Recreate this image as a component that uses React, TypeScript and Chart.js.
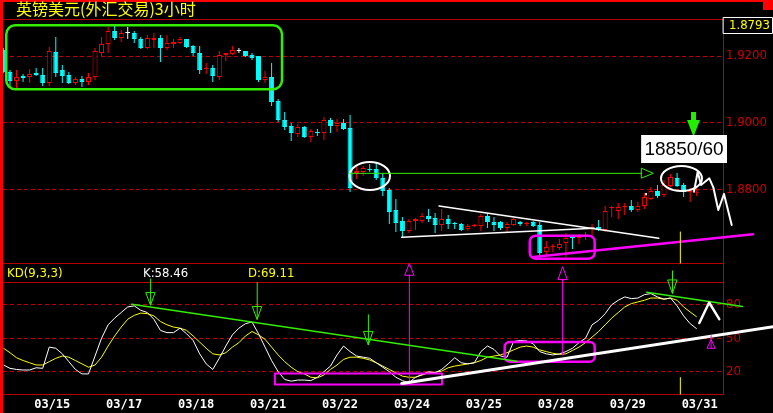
import React, { useEffect, useRef } from 'react';
import { Chart, registerables } from 'chart.js';

Chart.register(...registerables);

// ---------- data (3-hour bars, bar index -1 .. 105) ----------
const TITLE = '英镑美元(外汇交易)3小时';
const KD_NAME = 'KD(9,3,3)';
const FIRST_BAR = -1;

const OPEN = [
  1.9218, 1.9152, 1.9125, 1.9140, 1.9137, 1.9149, 1.9143, 1.9119, 1.9212, 1.9158,
  1.9143, 1.9119, 1.9131, 1.9122, 1.9137, 1.9209, 1.9236, 1.9275, 1.9254, 1.9269,
  1.9269, 1.9251, 1.9224, 1.9248, 1.9254, 1.9224, 1.9236, 1.9239, 1.9251, 1.9230,
  1.9209, 1.9161, 1.9164, 1.9137, 1.9203, 1.9206, 1.9215, 1.9215, 1.9203, 1.9200,
  1.9128, 1.9137, 1.9065, 1.9008, 1.8990, 1.8966, 1.8987, 1.8957, 1.8972, 1.8969,
  1.9008, 1.8990, 1.8999, 1.8984, 1.8849, 1.8852, 1.8861, 1.8861, 1.8834, 1.8798,
  1.8738, 1.8705, 1.8675, 1.8705, 1.8705, 1.8720, 1.8714, 1.8693, 1.8711, 1.8699,
  1.8696, 1.8681, 1.8690, 1.8690, 1.8720, 1.8702, 1.8702, 1.8684, 1.8693, 1.8702,
  1.8696, 1.8702, 1.8693, 1.8612, 1.8627, 1.8624, 1.8639, 1.8657, 1.8654, 1.8657,
  1.8684, 1.8687, 1.8678, 1.8744, 1.8735, 1.8747, 1.8750, 1.8738, 1.8750, 1.8771,
  1.8795, 1.8783, 1.8810, 1.8834, 1.8813, 1.8792, 1.8790,
];
const HIGH = [
  1.9224, 1.9158, 1.9158, 1.9146, 1.9161, 1.9164, 1.9164, 1.9227, 1.9257, 1.9173,
  1.9152, 1.9137, 1.9140, 1.9149, 1.9224, 1.9257, 1.9287, 1.9293, 1.9278, 1.9287,
  1.9275, 1.9257, 1.9263, 1.9269, 1.9263, 1.9263, 1.9251, 1.9257, 1.9251, 1.9233,
  1.9230, 1.9179, 1.9173, 1.9215, 1.9209, 1.9230, 1.9224, 1.9215, 1.9209, 1.9200,
  1.9155, 1.9179, 1.9071, 1.9032, 1.8999, 1.8996, 1.8990, 1.8981, 1.8981, 1.9017,
  1.9014, 1.9011, 1.9011, 1.9023, 1.8867, 1.8870, 1.8876, 1.8879, 1.8849, 1.8804,
  1.8771, 1.8717, 1.8711, 1.8714, 1.8729, 1.8741, 1.8729, 1.8741, 1.8723, 1.8702,
  1.8699, 1.8696, 1.8696, 1.8726, 1.8729, 1.8717, 1.8705, 1.8702, 1.8714, 1.8705,
  1.8702, 1.8705, 1.8702, 1.8645, 1.8636, 1.8651, 1.8669, 1.8663, 1.8666, 1.8672,
  1.8696, 1.8708, 1.8750, 1.8750, 1.8759, 1.8759, 1.8768, 1.8762, 1.8789, 1.8807,
  1.8813, 1.8828, 1.8846, 1.8849, 1.8819, 1.8804, 1.8810,
];
const LOW = [
  1.9149, 1.9104, 1.9104, 1.9122, 1.9119, 1.9140, 1.9110, 1.9110, 1.9137, 1.9119,
  1.9116, 1.9113, 1.9107, 1.9113, 1.9128, 1.9200, 1.9209, 1.9248, 1.9242, 1.9251,
  1.9239, 1.9221, 1.9221, 1.9224, 1.9182, 1.9218, 1.9224, 1.9236, 1.9224, 1.9200,
  1.9146, 1.9146, 1.9122, 1.9128, 1.9185, 1.9203, 1.9209, 1.9197, 1.9188, 1.9122,
  1.9119, 1.9050, 1.9002, 1.8978, 1.8945, 1.8957, 1.8954, 1.8942, 1.8960, 1.8948,
  1.8969, 1.8972, 1.8978, 1.8792, 1.8831, 1.8840, 1.8852, 1.8828, 1.8780, 1.8696,
  1.8672, 1.8657, 1.8669, 1.8678, 1.8699, 1.8702, 1.8669, 1.8675, 1.8681, 1.8681,
  1.8675, 1.8675, 1.8687, 1.8675, 1.8684, 1.8675, 1.8678, 1.8672, 1.8690, 1.8690,
  1.8690, 1.8687, 1.8591, 1.8603, 1.8612, 1.8618, 1.8597, 1.8621, 1.8636, 1.8648,
  1.8663, 1.8675, 1.8672, 1.8717, 1.8711, 1.8723, 1.8732, 1.8732, 1.8741, 1.8768,
  1.8774, 1.8777, 1.8807, 1.8807, 1.8777, 1.8762, 1.8780,
];
const CLOSE = [
  1.9152, 1.9125, 1.9137, 1.9134, 1.9146, 1.9143, 1.9119, 1.9215, 1.9149, 1.9140,
  1.9119, 1.9131, 1.9122, 1.9137, 1.9215, 1.9236, 1.9275, 1.9254, 1.9269, 1.9269,
  1.9251, 1.9224, 1.9254, 1.9254, 1.9224, 1.9239, 1.9242, 1.9251, 1.9227, 1.9209,
  1.9158, 1.9164, 1.9140, 1.9203, 1.9209, 1.9218, 1.9215, 1.9200, 1.9194, 1.9128,
  1.9137, 1.9062, 1.9008, 1.8987, 1.8969, 1.8987, 1.8957, 1.8975, 1.8969, 1.9008,
  1.8990, 1.8999, 1.8981, 1.8804, 1.8855, 1.8864, 1.8858, 1.8834, 1.8795, 1.8732,
  1.8699, 1.8675, 1.8705, 1.8711, 1.8720, 1.8711, 1.8693, 1.8711, 1.8696, 1.8696,
  1.8678, 1.8690, 1.8693, 1.8720, 1.8702, 1.8693, 1.8684, 1.8696, 1.8711, 1.8696,
  1.8699, 1.8690, 1.8609, 1.8627, 1.8630, 1.8636, 1.8654, 1.8654, 1.8657, 1.8660,
  1.8687, 1.8678, 1.8735, 1.8747, 1.8747, 1.8750, 1.8738, 1.8750, 1.8777, 1.8795,
  1.8780, 1.8813, 1.8837, 1.8810, 1.8792, 1.8795, 1.8793,
];
const K_VALUES = [
  26, 23, 22, 21.5, 21.5, 23.5, 23, 42, 41, 36,
  29, 22, 18, 18, 34, 50, 62, 68, 73, 78,
  79, 75, 73, 67, 57, 55, 55, 59, 54, 48,
  36, 27, 22, 32, 43, 53, 59, 63, 64.5, 54,
  42, 30, 20, 13, 11.5, 12.5, 12.5, 12, 15, 20,
  25, 35, 43, 38, 34, 33, 32, 28, 24, 20,
  15, 12, 10, 15, 17.5, 20, 19, 22, 27, 32.5,
  28, 27, 28, 38, 43, 40, 34, 33, 47, 48,
  47.5, 45, 38, 36, 35, 36, 38, 41, 46, 50,
  62, 66, 72, 80, 84, 87, 85.5, 86, 89, 90,
  87, 85, 86, 79, 70, 63, 58.46,
];
const D_VALUES = [
  41, 37, 32.5, 30, 28, 26, 26, 29, 32, 34,
  33, 30, 27, 24, 26, 33, 43, 52, 60, 67,
  70.5, 72.5, 72, 70, 65, 62, 60, 59, 57, 52,
  46.5, 41, 36, 35, 37, 42, 46, 52, 56, 53,
  49, 42, 35, 29, 24, 20, 18, 15, 14.5, 17,
  22, 26, 31, 33, 33, 32, 30.5, 28, 25, 22,
  19, 16, 15, 15, 17, 19, 19.5, 20.5, 23.5, 25,
  26, 27, 28, 30, 33, 34, 35, 37, 39.5, 42,
  43, 42, 39.5, 38, 36.5, 35.5, 36, 39, 42, 46,
  51, 56, 62, 68, 73, 78, 81, 82.5, 84, 86,
  86, 85, 86, 84, 78, 73.5, 69.11,
];
const DATE_TICK_BARS = [6, 17, 28, 39, 50, 61, 72, 83, 94, 105];
const DATE_TICK_LABELS = ['03/15', '03/17', '03/18', '03/21', '03/22', '03/24', '03/25', '03/28', '03/29', '03/31'];
const PRICE_TICKS = [1.88, 1.9, 1.92];
const KD_TICKS = [20, 50, 80];
const NOTE_TEXT = '18850/60';

// hand-drawn markup, in data units: [bar index, price] or [bar index, KD value]
const ZIGZAG: [number, number][] = [
  [104.59, 1.8793], [105.15, 1.8853], [105.66, 1.8813], [106.93, 1.8833],
  [107.54, 1.8806], [108.3, 1.8738], [109.17, 1.8786], [110.35, 1.8693],
];
const GREEN_ARROW: [number, number][] = [
  [104.13, 1.9032], [104.89, 1.9032], [104.89, 1.9008], [105.5, 1.9008],
  [104.51, 1.8958], [103.52, 1.9008], [104.13, 1.9008],
];
const NOTE_BOX: [number, number][] = [[96.5, 1.8963], [109.63, 1.8879]];

const GREEN = '#33ee00';
const MAGENTA = '#ff00ff';
const WHITE = '#ffffff';
const YELLOW = '#ffff00';

type Mark = { pane: 'price' | 'kd'; kind: string; pts: [number, number][]; color: string; width?: number; r?: number };

const MARKUP: Mark[] = [
  { pane: 'price', kind: 'roundRect', pts: [[-0.57, 1.9292], [41.59, 1.91]], r: 9, color: GREEN, width: 2.5 },
  { pane: 'price', kind: 'roundRect', pts: [[79.47, 1.8661], [89.4, 1.8592]], r: 6, color: MAGENTA, width: 2.5 },
  { pane: 'price', kind: 'ellipse', pts: [[51.91, 1.8882], [58.1, 1.8798]], color: WHITE, width: 2 },
  { pane: 'price', kind: 'ellipse', pts: [[99.54, 1.887], [105.81, 1.8795]], color: WHITE, width: 2 },
  { pane: 'price', kind: 'line', pts: [[52, 1.8848], [96.58, 1.8848]], color: GREEN, width: 1 },
  { pane: 'price', kind: 'shape', pts: [[96.58, 1.8863], [98.36, 1.8848], [96.58, 1.8834]], color: GREEN, width: 1 },
  { pane: 'price', kind: 'line', pts: [[65.6, 1.875], [99.2, 1.8653]], color: WHITE, width: 1.5 },
  { pane: 'price', kind: 'line', pts: [[59.9, 1.8656], [89.3, 1.8683]], color: WHITE, width: 1.5 },
  { pane: 'price', kind: 'line', pts: [[80.0, 1.8597], [113.6, 1.8665]], color: MAGENTA, width: 2.5 },
  { pane: 'price', kind: 'line', pts: ZIGZAG, color: WHITE, width: 2 },
  { pane: 'price', kind: 'fill', pts: GREEN_ARROW, color: '#22ee00' },
  { pane: 'price', kind: 'fill', pts: [[97.1, 1.8789], [97.4, 1.8789], [97.4, 1.8782], [97.1, 1.8782]], color: WHITE },
  { pane: 'price', kind: 'line', pts: [[102.5, 1.8672], [102.5, 1.8579]], color: YELLOW, width: 1 },
  { pane: 'kd', kind: 'line', pts: [[102.5, 14.7], [102.5, 0]], color: YELLOW, width: 1 },
  { pane: 'kd', kind: 'line', pts: [[61.06, 106.7], [61.06, 8.5]], color: MAGENTA, width: 1 },
  { pane: 'kd', kind: 'shape', pts: [[60.37, 106.7], [61.06, 117], [61.75, 106.7]], color: MAGENTA, width: 1 },
  { pane: 'kd', kind: 'line', pts: [[84.5, 102.9], [84.5, 35]], color: MAGENTA, width: 1 },
  { pane: 'kd', kind: 'shape', pts: [[83.81, 102.9], [84.5, 114.1], [85.19, 102.9]], color: MAGENTA, width: 1 },
  { pane: 'kd', kind: 'roundRect', pts: [[40.5, 18.3], [66.05, 8.5]], r: 0, color: MAGENTA, width: 2 },
  { pane: 'kd', kind: 'roundRect', pts: [[75.64, 46.6], [89.4, 29.0]], r: 5, color: MAGENTA, width: 2.5 },
  { pane: 'kd', kind: 'line', pts: [[18.6, 80.5], [77.5, 29.3]], color: GREEN, width: 1.5 },
  { pane: 'kd', kind: 'line', pts: [[97.35, 91.25], [112.0, 78.4]], color: GREEN, width: 1.5 },
  { pane: 'kd', kind: 'line', pts: [[21.5, 103.1], [21.5, 79.9]], color: GREEN, width: 1 },
  { pane: 'kd', kind: 'shape', pts: [[20.81, 90.9], [22.19, 90.9], [21.5, 79.9]], color: GREEN, width: 1 },
  { pane: 'kd', kind: 'line', pts: [[37.8, 99.8], [37.8, 67.1]], color: GREEN, width: 1 },
  { pane: 'kd', kind: 'shape', pts: [[37.11, 78.4], [38.49, 78.4], [37.8, 67.1]], color: GREEN, width: 1 },
  { pane: 'kd', kind: 'line', pts: [[54.8, 71], [54.8, 44.2]], color: GREEN, width: 1 },
  { pane: 'kd', kind: 'shape', pts: [[54.11, 56.1], [55.49, 56.1], [54.8, 44.2]], color: GREEN, width: 1 },
  { pane: 'kd', kind: 'line', pts: [[101.3, 110.3], [101.3, 90.4]], color: GREEN, width: 1 },
  { pane: 'kd', kind: 'shape', pts: [[100.61, 102.2], [101.99, 102.2], [101.3, 90.4]], color: GREEN, width: 1 },
  { pane: 'kd', kind: 'line', pts: [[59.9, 9.5], [116.7, 60.3]], color: WHITE, width: 3 },
  { pane: 'kd', kind: 'line', pts: [[105.4, 63.6], [106.9, 82], [108.45, 67.1]], color: WHITE, width: 2.5 },
  { pane: 'kd', kind: 'line', pts: [[107.2, 52.2], [107.2, 41.3]], color: MAGENTA, width: 1 },
  { pane: 'kd', kind: 'shape', pts: [[106.59, 41.3], [107.2, 48.7], [107.81, 41.3]], color: MAGENTA, width: 1 },
];

const UP = '#ff0000';
const DOWN = '#00ffff';
const FLAT = '#ffffff';
const NARROW = '"Liberation Sans Narrow", "Arial Narrow", "DejaVu Sans Condensed", sans-serif';

const framePlugin = {
  id: 'frame',
  beforeDatasetsDraw(chart: any) {
    const { ctx, chartArea } = chart;
    const ks = chart.scales.y2;
    ctx.save();
    ctx.strokeStyle = '#b40000';
    ctx.lineWidth = 1;
    const hline = (y: number) => {
      const yy = Math.round(y) + 0.5;
      ctx.beginPath();
      ctx.moveTo(chartArea.left, yy);
      ctx.lineTo(chartArea.right, yy);
      ctx.stroke();
    };
    hline(chartArea.top);
    hline(ks.top);
    hline(ks.getPixelForValue(100));
    hline(Math.min(ks.getPixelForValue(0), chartArea.bottom - 0.5));
    ctx.restore();
  },
  afterDraw(chart: any) {
    const { ctx, chartArea } = chart;
    const xs = chart.scales.x;
    const ys = chart.scales.y;
    const ks = chart.scales.y2;
    const X = (v: number) => xs.getPixelForValue(v);
    const map = (pane: string) => (p: [number, number]) => [X(p[0]), pane === 'price' ? ys.getPixelForValue(p[1]) : ks.getPixelForValue(p[1])];

    ctx.save();
    // outer red frame
    ctx.fillStyle = '#ff0000';
    ctx.fillRect(0, 0, 3, chart.height);
    ctx.fillRect(0, 0, chart.width, 2);
    ctx.fillRect(763, 0, 10, 10);

    // markup
    ctx.lineJoin = 'round';
    ctx.lineCap = 'round';
    for (const m of MARKUP) {
      const pts = m.pts.map(map(m.pane));
      ctx.strokeStyle = m.color;
      ctx.fillStyle = m.color;
      ctx.lineWidth = m.width || 1;
      ctx.beginPath();
      if (m.kind === 'roundRect') {
        const x0 = Math.min(pts[0][0], pts[1][0]);
        const y0 = Math.min(pts[0][1], pts[1][1]);
        const w = Math.abs(pts[1][0] - pts[0][0]);
        const h = Math.abs(pts[1][1] - pts[0][1]);
        ctx.roundRect(x0, y0, w, h, m.r || 0);
        ctx.stroke();
      } else if (m.kind === 'ellipse') {
        const cx = (pts[0][0] + pts[1][0]) / 2;
        const cy = (pts[0][1] + pts[1][1]) / 2;
        ctx.ellipse(cx, cy, Math.abs(pts[1][0] - pts[0][0]) / 2, Math.abs(pts[1][1] - pts[0][1]) / 2, 0, 0, Math.PI * 2);
        ctx.stroke();
      } else {
        pts.forEach((p, i) => (i ? ctx.lineTo(p[0], p[1]) : ctx.moveTo(p[0], p[1])));
        if (m.kind === 'shape' || m.kind === 'fill') ctx.closePath();
        if (m.kind === 'fill') ctx.fill();
        else ctx.stroke();
      }
    }

    // note box
    const nb = NOTE_BOX.map(map('price'));
    ctx.fillStyle = '#ffffff';
    ctx.fillRect(nb[0][0], nb[0][1], nb[1][0] - nb[0][0], nb[1][1] - nb[0][1]);
    ctx.fillStyle = '#000000';
    ctx.font = '19px "Liberation Sans", Arial, sans-serif';
    ctx.textAlign = 'center';
    ctx.textBaseline = 'middle';
    ctx.fillText(NOTE_TEXT, (nb[0][0] + nb[1][0]) / 2, (nb[0][1] + nb[1][1]) / 2 + 1);

    // title
    ctx.textAlign = 'left';
    ctx.textBaseline = 'middle';
    ctx.fillStyle = '#ffff00';
    ctx.font = '16px "Noto Sans CJK SC", sans-serif';
    ctx.fillText(TITLE, 16, 9);

    // KD pane captions
    ctx.textBaseline = 'alphabetic';
    ctx.font = `13px ${NARROW}`;
    const capY = ks.top + 14;
    ctx.fillStyle = '#ffff00';
    ctx.fillText(KD_NAME, 7, capY);
    ctx.fillStyle = '#ffffff';
    ctx.fillText(`K:${K_VALUES[K_VALUES.length - 1].toFixed(2)}`, 143, capY);
    ctx.fillStyle = '#ffff00';
    ctx.fillText(`D:${D_VALUES[D_VALUES.length - 1].toFixed(2)}`, 248, capY);

    // last price box
    ctx.strokeStyle = '#ffffff';
    ctx.lineWidth = 1;
    ctx.fillStyle = '#000000';
    ctx.fillRect(chartArea.right + 0.5, 17.5, 49, 16);
    ctx.strokeRect(chartArea.right + 0.5, 17.5, 49, 16);
    ctx.fillStyle = '#ffff00';
    ctx.textBaseline = 'middle';
    ctx.fillText(CLOSE[CLOSE.length - 1].toFixed(4), chartArea.right + 6, 26);
    ctx.restore();
  },
};

export default function App() {
  const canvasRef = useRef<HTMLCanvasElement | null>(null);

  useEffect(() => {
    document.body.style.margin = '0';
    document.body.style.background = '#000';
    const canvas = canvasRef.current;
    if (!canvas) return;

    const bars = OPEN.map((_, i) => FIRST_BAR + i);
    const dirColor = bars.map((_, i) => (CLOSE[i] > OPEN[i] ? UP : CLOSE[i] < OPEN[i] ? DOWN : FLAT));
    const bodyFill = bars.map((_, i) => (CLOSE[i] > OPEN[i] ? '#000000' : dirColor[i]));

    const chart = new Chart(canvas, {
      type: 'bar',
      data: {
        datasets: [
          {
            type: 'bar',
            label: 'body',
            data: bars.map((b, i) => ({ x: b, y: [OPEN[i], CLOSE[i]] })) as any,
            yAxisID: 'y',
            backgroundColor: bodyFill,
            borderColor: dirColor,
            borderWidth: 1,
            borderSkipped: false,
            grouped: false,
            barThickness: 5,
            maxBarThickness: 5,
            minBarLength: 1,
            inflateAmount: 0,
            order: 0,
          } as any,
          {
            type: 'bar',
            label: 'wick',
            data: bars.map((b, i) => ({ x: b, y: [LOW[i], HIGH[i]] })) as any,
            yAxisID: 'y',
            backgroundColor: dirColor,
            borderWidth: 0,
            grouped: false,
            barThickness: 1,
            maxBarThickness: 1,
            minBarLength: 1,
            inflateAmount: 0,
            order: 1,
          } as any,
          {
            type: 'line',
            label: 'K',
            data: bars.map((b, i) => ({ x: b, y: K_VALUES[i] })),
            yAxisID: 'y2',
            borderColor: '#ffffff',
            borderWidth: 1,
            pointRadius: 0,
            tension: 0,
            order: 2,
          } as any,
          {
            type: 'line',
            label: 'D',
            data: bars.map((b, i) => ({ x: b, y: D_VALUES[i] })),
            yAxisID: 'y2',
            borderColor: '#ffff00',
            borderWidth: 1,
            pointRadius: 0,
            tension: 0,
            order: 3,
          } as any,
        ],
      },
      options: {
        responsive: false,
        animation: false,
        devicePixelRatio: 1,
        events: [],
        layout: { padding: { left: 3, top: 19, right: 0, bottom: 0 } },
        plugins: { legend: { display: false }, tooltip: { enabled: false } },
        scales: {
          x: {
            type: 'linear',
            position: 'bottom',
            min: -1.07,
            max: 109.02,
            offset: false,
            grid: { display: false, drawTicks: false },
            border: { display: false },
            afterBuildTicks: (s: any) => {
              s.ticks = DATE_TICK_BARS.map((v) => ({ value: v }));
            },
            afterFit: (s: any) => {
              s.height = 19;
            },
            ticks: {
              autoSkip: false,
              maxRotation: 0,
              minRotation: 0,
              padding: 4,
              labelOffset: 3,
              color: '#ffffff',
              font: { family: '"DejaVu Sans Mono", monospace', size: 12, weight: 'bold' },
              callback: (_v: any, i: number) => DATE_TICK_LABELS[i] ?? '',
            },
          },
          y: {
            type: 'linear',
            position: 'right',
            stack: 'pane',
            stackWeight: 244,
            min: 1.8579,
            max: 1.9311,
            grid: { color: '#c00000', lineWidth: 1, drawTicks: false },
            border: { display: true, color: '#b40000', width: 1, dash: [4, 3] },
            afterBuildTicks: (s: any) => {
              s.ticks = PRICE_TICKS.map((v) => ({ value: v }));
            },
            afterFit: (s: any) => {
              s.width = 50;
            },
            ticks: {
              padding: 3,
              color: '#cc0000',
              font: { family: NARROW, size: 13 },
              callback: (v: any) => Number(v).toFixed(4),
            },
          },
          y2: {
            type: 'linear',
            position: 'right',
            stack: 'pane',
            stackWeight: 131,
            min: 0,
            max: 117.4,
            grid: { color: '#c00000', lineWidth: 1, drawTicks: false },
            border: { display: true, color: '#b40000', width: 1, dash: [4, 3] },
            afterBuildTicks: (s: any) => {
              s.ticks = KD_TICKS.map((v) => ({ value: v }));
            },
            afterFit: (s: any) => {
              s.width = 50;
            },
            ticks: {
              padding: 3,
              color: '#cc0000',
              font: { family: NARROW, size: 13 },
              callback: (v: any) => String(v),
            },
          },
        },
      } as any,
      plugins: [framePlugin],
    });

    return () => chart.destroy();
  }, []);

  return (
    <div style={{ position: 'fixed', left: 0, top: 0, width: 773, height: 413, background: '#000' }}>
      <canvas ref={canvasRef} width={773} height={413} style={{ display: 'block', width: 773, height: 413 }} />
    </div>
  );
}
